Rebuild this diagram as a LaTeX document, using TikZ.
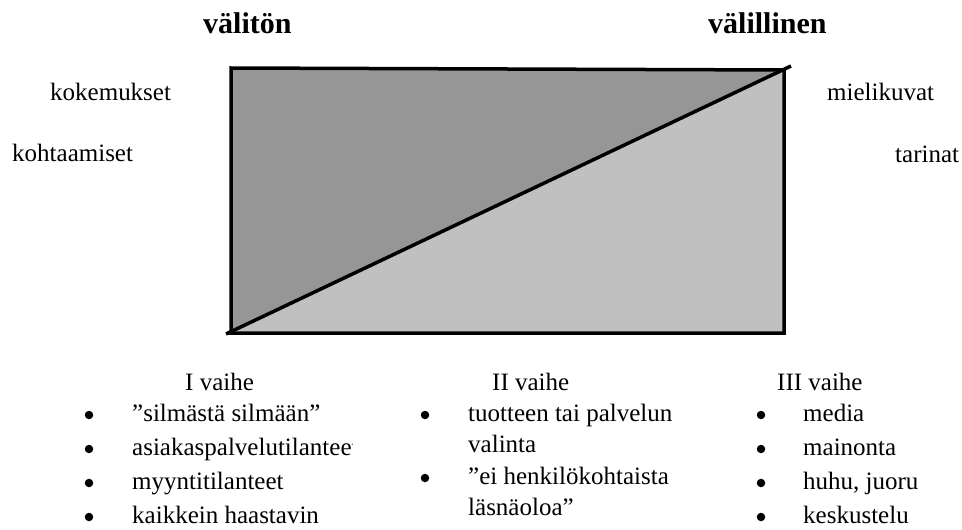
\documentclass[tikz,border=0pt]{standalone}
\usepackage{fontspec}
\setmainfont{Liberation Serif}

\definecolor{darkpart}{HTML}{969696}
\definecolor{lightpart}{HTML}{C0C0C0}

\begin{document}
\begin{tikzpicture}[x=1pt,y=-1pt,
    txt/.style={font=\fontsize{25}{30}\selectfont, inner sep=0pt, anchor=base west},
    heading/.style={font=\fontsize{30}{36}\selectfont\bfseries, inner sep=0pt, anchor=base west},
    bulletdot/.style={circle, fill=black, inner sep=0pt, minimum size=8.5pt}]

    % Fix the page size
    \useasboundingbox (0,0) rectangle (962,530);

    % Corners of the box
    \coordinate (BL) at (231,333);
    \coordinate (TL) at (231,68);
    \coordinate (TR) at (784,70);
    \coordinate (BR) at (784,333);
    \coordinate (TRx) at (791,66);
    \coordinate (BLx) at (226,334);

    % Fill the two halves
    \fill[darkpart] (BL) -- (TL) -- (TR) -- cycle;
    \fill[lightpart] (BL) -- (TR) -- (BR) -- cycle;

    % Draw the box and the diagonal
    \draw[line width=3.5pt] (BL) -- (TL) -- (TR) -- (BR) -- cycle;
    \draw[line width=3.5pt] (BLx) -- (TRx);

    % Titles
    \node[heading] (direct) at (203,33) {välitön};
    \node[heading] (indirect) at (708,33) {välillinen};

    % Side labels
    \node[txt] (experiences) at (50,100) {kokemukset};
    \node[txt] (encounters) at (12,161) {kohtaamiset};
    \node[txt] (images) at (827,100) {mielikuvat};
    \node[txt] (stories) at (895,162) {tarinat};

    % Phase headers
    \node[txt] (phaseone) at (185,390) {I vaihe};
    \node[txt] (phasetwo) at (492,390) {II vaihe};
    \node[txt] (phasethree) at (777,390) {III vaihe};

    % Phase I list
    \foreach \y/\n in {415/a,449/b,483/c,517/d}
        \node[bulletdot] (dotone\n) at (89,\y) {};
    \node[txt] (eyes) at (132,421) {”silmästä silmään”};
    \begin{scope}
        \clip (100,425) rectangle (352,470);
        \node[txt] (service) at (132,455) {asiakaspalvelutilanteet};
    \end{scope}
    \node[txt] (sales) at (132,489) {myyntitilanteet};
    \node[txt] (hardest) at (132,523) {kaikkein haastavin};

    % Phase II list
    \node[bulletdot] (dottwoa) at (425,415) {};
    \node[bulletdot] (dottwob) at (425,478) {};
    \node[txt] (choice) at (468,421) {tuotteen tai palvelun};
    \node[txt] (choicetwo) at (468,452) {valinta};
    \node[txt] (presence) at (468,484) {”ei henkilökohtaista};
    \node[txt] (presencetwo) at (468,515) {läsnäoloa”};

    % Phase III list
    \foreach \y/\n in {415/a,449/b,483/c,517/d}
        \node[bulletdot] (dotthree\n) at (761,\y) {};
    \node[txt] (media) at (803,421) {media};
    \node[txt] (ads) at (803,455) {mainonta};
    \node[txt] (rumour) at (803,489) {huhu, juoru};
    \node[txt] (talk) at (803,523) {keskustelu};
\end{tikzpicture}
\end{document}
